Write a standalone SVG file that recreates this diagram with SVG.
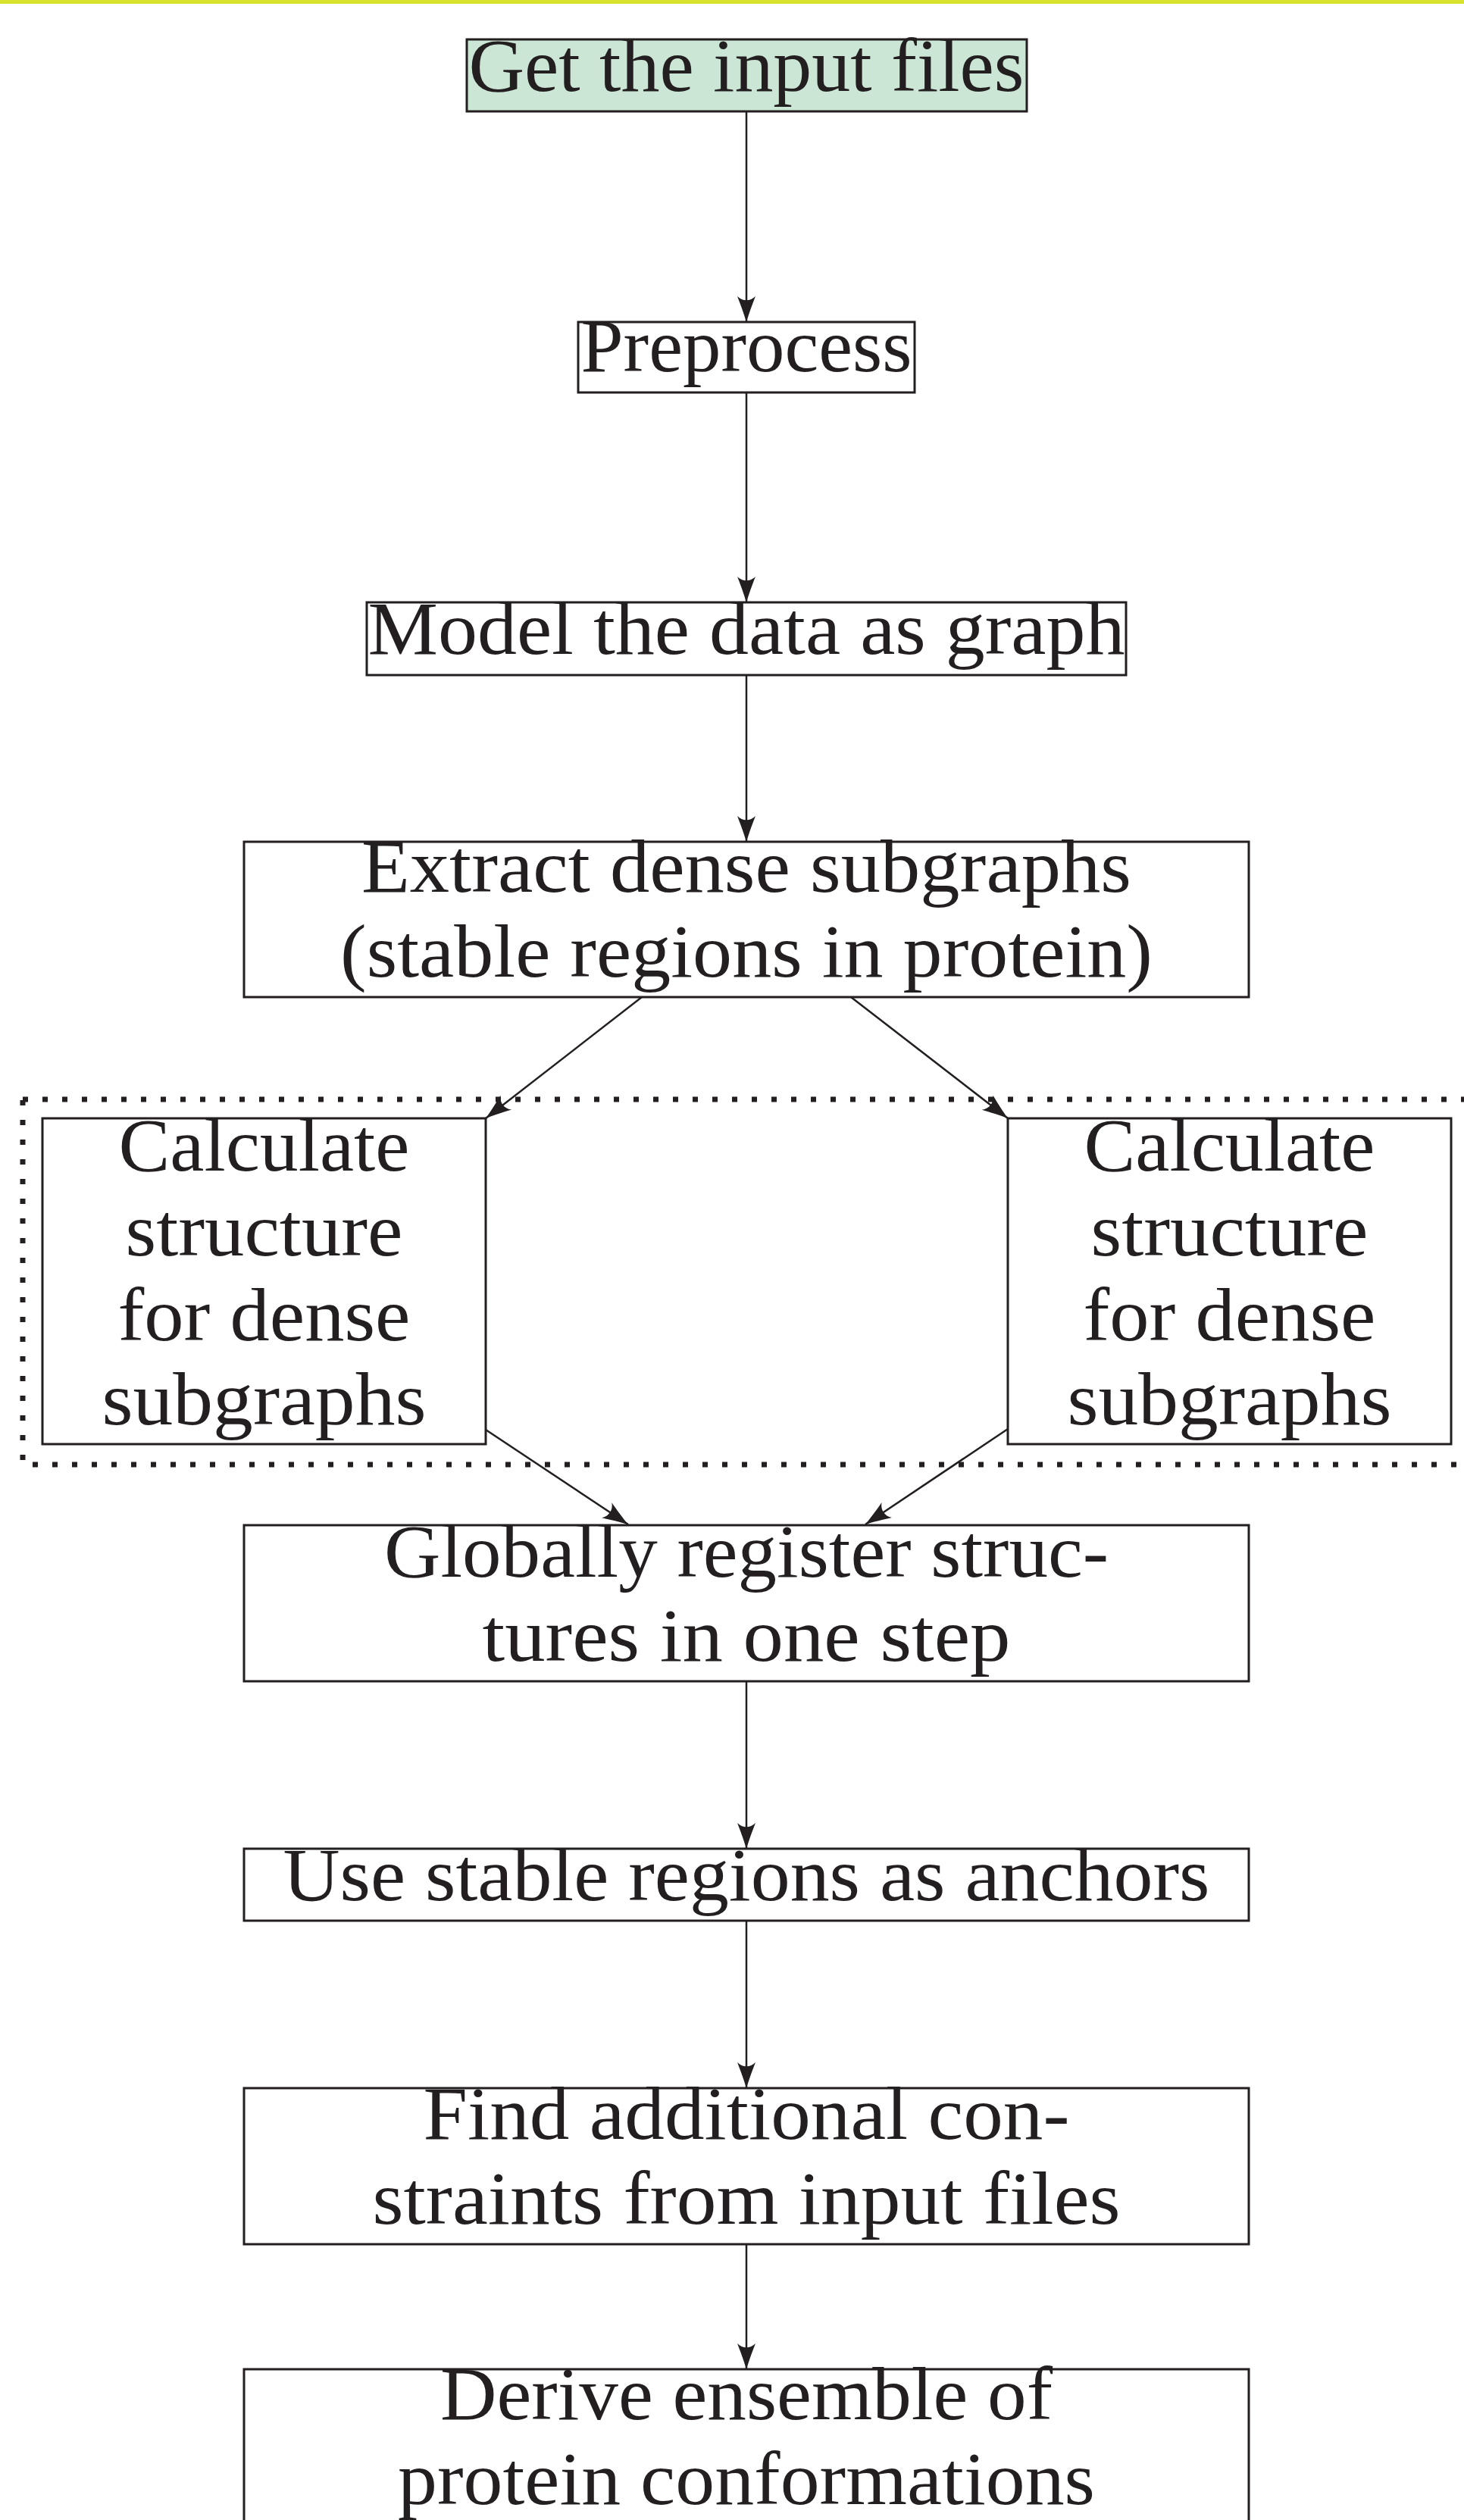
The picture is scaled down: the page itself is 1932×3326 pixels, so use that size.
<svg xmlns="http://www.w3.org/2000/svg" width="1932" height="3326" viewBox="0 0 1932 3326">
<style>
.box{fill:#ffffff;stroke:#231f20;stroke-width:3}
.start{fill:#cce6d6;stroke:#231f20;stroke-width:3}
.t{font-family:"Liberation Serif","Times New Roman",serif;font-size:100px;fill:#231f20;text-anchor:middle}
.edge{stroke:#231f20;stroke-width:2.5;fill:none;marker-end:url(#ah)}
.group{fill:none;stroke:#231f20;stroke-width:7;stroke-dasharray:7 19}
</style>
<defs>
<marker id="ah" markerUnits="userSpaceOnUse" viewBox="-36 -14 38 28" markerWidth="38" markerHeight="28" refX="0" refY="0" orient="auto">
<path d="M0,0 C-10,-3 -24,-8 -34,-12 C-27,-5 -27,5 -34,12 C-24,8 -10,3 0,0 Z" fill="#231f20"/>
</marker>
</defs>
<rect x="0" y="0" width="1932" height="5" fill="#d9e22e"/>
<rect class="group" x="30" y="1451" width="1940" height="482"/>
<g id="connectors">
<line class="edge" x1="985" y1="147" x2="985" y2="425"/>
<line class="edge" x1="985" y1="518" x2="985" y2="795"/>
<line class="edge" x1="985" y1="891" x2="985" y2="1111"/>
<line class="edge" x1="847" y1="1316" x2="641" y2="1476"/>
<line class="edge" x1="1123" y1="1316" x2="1330" y2="1476"/>
<line class="edge" x1="641" y1="1887" x2="829" y2="2012"/>
<line class="edge" x1="1330" y1="1886" x2="1142" y2="2012"/>
<line class="edge" x1="985" y1="2219" x2="985" y2="2440"/>
<line class="edge" x1="985" y1="2535" x2="985" y2="2756"/>
<line class="edge" x1="985" y1="2962" x2="985" y2="3127"/>
</g>
<g id="n1"><rect class="start" x="616" y="52" width="739" height="95"/><text class="t" x="985" y="120" textLength="733" lengthAdjust="spacingAndGlyphs">Get the input files</text></g>
<g id="n2"><rect class="box" x="763" y="425" width="444" height="93"/><text class="t" x="985" y="490" textLength="437" lengthAdjust="spacingAndGlyphs">Preprocess</text></g>
<g id="n3"><rect class="box" x="484" y="795" width="1002" height="96"/><text class="t" x="985" y="863" textLength="999" lengthAdjust="spacingAndGlyphs">Model the data as graph</text></g>
<g id="n4"><rect class="box" x="322" y="1111" width="1326" height="205"/><text class="t" x="985" y="1177" textLength="1016" lengthAdjust="spacingAndGlyphs">Extract dense subgraphs</text><text class="t" x="985" y="1289" textLength="1072" lengthAdjust="spacingAndGlyphs">(stable regions in protein)</text></g>
<g id="nL"><rect class="box" x="56" y="1476" width="585" height="430"/><text class="t" x="348.5" y="1545" textLength="384" lengthAdjust="spacingAndGlyphs">Calculate</text><text class="t" x="348.5" y="1657" textLength="366" lengthAdjust="spacingAndGlyphs">structure</text><text class="t" x="348.5" y="1769" textLength="386" lengthAdjust="spacingAndGlyphs">for dense</text><text class="t" x="348.5" y="1880" textLength="428" lengthAdjust="spacingAndGlyphs">subgraphs</text></g>
<g id="nR"><rect class="box" x="1330" y="1476" width="585" height="430"/><text class="t" x="1622.5" y="1545" textLength="384" lengthAdjust="spacingAndGlyphs">Calculate</text><text class="t" x="1622.5" y="1657" textLength="366" lengthAdjust="spacingAndGlyphs">structure</text><text class="t" x="1622.5" y="1769" textLength="386" lengthAdjust="spacingAndGlyphs">for dense</text><text class="t" x="1622.5" y="1880" textLength="428" lengthAdjust="spacingAndGlyphs">subgraphs</text></g>
<g id="n5"><rect class="box" x="322" y="2013" width="1326" height="206"/><text class="t" x="985" y="2081" textLength="956" lengthAdjust="spacingAndGlyphs">Globally register struc-</text><text class="t" x="985" y="2192" textLength="697" lengthAdjust="spacingAndGlyphs">tures in one step</text></g>
<g id="n6"><rect class="box" x="322" y="2440" width="1326" height="95"/><text class="t" x="985" y="2508" textLength="1223" lengthAdjust="spacingAndGlyphs">Use stable regions as anchors</text></g>
<g id="n7"><rect class="box" x="322" y="2756" width="1326" height="206"/><text class="t" x="985" y="2823" textLength="853" lengthAdjust="spacingAndGlyphs">Find additional con-</text><text class="t" x="985" y="2935" textLength="987" lengthAdjust="spacingAndGlyphs">straints from input files</text></g>
<g id="n8"><rect class="box" x="322" y="3127" width="1326" height="205"/><text class="t" x="985" y="3193" textLength="808" lengthAdjust="spacingAndGlyphs">Derive ensemble of</text><text class="t" x="985" y="3305" textLength="920" lengthAdjust="spacingAndGlyphs">protein conformations</text></g>
</svg>
